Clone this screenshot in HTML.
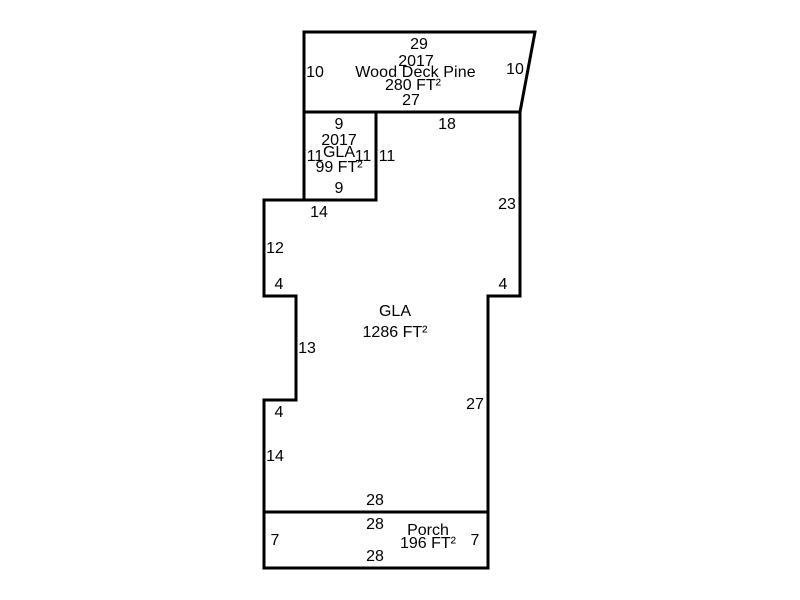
<!DOCTYPE html>
<html>
<head>
<meta charset="utf-8">
<style>
html,body{margin:0;padding:0;background:#fff;width:800px;height:600px;overflow:hidden}
svg{display:block}
text{font-family:"Liberation Sans",Arial,sans-serif;font-size:16px;fill:#000;text-anchor:middle}
</style>
</head>
<body>
<svg width="800" height="600" viewBox="0 0 800 600" xmlns="http://www.w3.org/2000/svg">
<g fill="none" stroke="#000" stroke-width="3" stroke-linejoin="miter">
<path d="M304 112V32H535L520 112Z"/>
<path d="M304 112H376V200H304Z"/>
<path d="M376 112H520V296H488V512H264V400H296V296H264V200H304"/>
<path d="M264 512H488V568H264Z"/>
</g>
<text x="419" y="49">29</text>
<text x="416" y="66">2017</text>
<text x="415.5" y="77" style="letter-spacing:.12px">Wood Deck Pine</text>
<text x="413" y="90">280 FT²</text>
<text x="411" y="105">27</text>
<text x="315" y="77">10</text>
<text x="515" y="74">10</text>
<text x="339" y="129">9</text>
<text x="339" y="145">2017</text>
<text x="339" y="157">GLA</text>
<text x="339" y="172">99 FT²</text>
<text x="339" y="193">9</text>
<text x="315" y="161">11</text>
<text x="363" y="161">11</text>
<text x="387" y="161">11</text>
<text x="447" y="129">18</text>
<text x="507" y="209">23</text>
<text x="319" y="217">14</text>
<text x="275" y="253">12</text>
<text x="279" y="289">4</text>
<text x="503" y="289">4</text>
<text x="307" y="353">13</text>
<text x="279" y="417">4</text>
<text x="475" y="409">27</text>
<text x="275" y="461">14</text>
<text x="395" y="316">GLA</text>
<text x="395" y="337">1286 FT²</text>
<text x="375" y="505">28</text>
<text x="375" y="529">28</text>
<text x="375" y="561">28</text>
<text x="428" y="535">Porch</text>
<text x="428" y="548">196 FT²</text>
<text x="275" y="545">7</text>
<text x="475" y="545">7</text>
</svg>
</body>
</html>
